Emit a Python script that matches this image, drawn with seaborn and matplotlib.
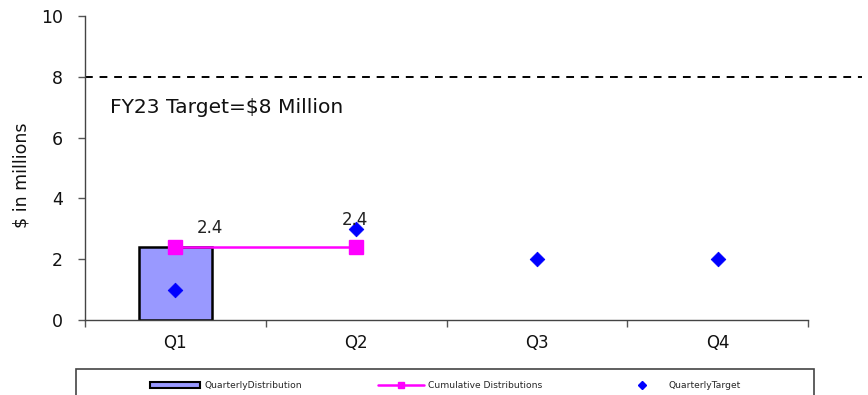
import matplotlib
matplotlib.use("Agg")
import matplotlib.pyplot as plt
import seaborn as sns
import pandas as pd
from matplotlib.patches import Patch, Rectangle
from matplotlib.lines import Line2D

quarters = ["Q1", "Q2", "Q3", "Q4"]
quarterly_distribution = [2.4, None, None, None]
cumulative_distributions = [2.4, 2.4, None, None]
quarterly_target = [1, 3, 2, 2]
fy_target = 8
yticks = [0, 2, 4, 6, 8, 10]
legend_labels = ["QuarterlyDistribution", "Cumulative Distributions", "QuarterlyTarget"]

sns.set_theme(style="white")
plt.rcParams["font.family"] = ["DejaVu Sans"]

W, H = 868, 395
fig = plt.figure(figsize=(W/100, H/100), dpi=100)
ax = fig.add_axes([85/W, 1-320/H, (808-85)/W, (320-16)/H])

df = pd.DataFrame({"q": quarters, "dist": quarterly_distribution,
                   "cum": cumulative_distributions, "tgt": quarterly_target})
pos = list(range(len(quarters)))

dbar = df.dropna(subset=["dist"])
sns.barplot(x=[pos[quarters.index(q)] for q in dbar["q"]], y=dbar["dist"].astype(float),
            native_scale=True, width=0.4, color="#9999FF", edgecolor="black",
            linewidth=1.8, saturation=1, ax=ax)

dcum = df.dropna(subset=["cum"])
xc = [pos[quarters.index(q)] for q in dcum["q"]]
ax.plot(xc, dcum["cum"].astype(float), color="#FF00FF", lw=1.8, marker="s",
        ms=10, mec="#FF00FF", mfc="#FF00FF", zorder=4)

sns.scatterplot(x=pos, y=df["tgt"], marker="D", s=55, color="#0000FF",
                edgecolor="#0000FF", ax=ax, zorder=5)

for i, (x, v) in enumerate(zip(xc, dcum["cum"])):
    dx = 0.19 if i == 0 else -0.005
    dy = 0.63 if i == 0 else 0.9
    ax.text(x + dx, float(v) + dy, f"{float(v):.1f}", ha="center", va="center",
            fontsize=12, color="#222222", zorder=6)

ax.axhline(fy_target, xmin=0, xmax=(862-85)/(808-85), color="black", lw=1.4,
           ls=(0, (4, 3.5)), clip_on=False)
ax.text(-0.36, 7.0, f"FY23 Target=${fy_target} Million", fontsize=14.6,
        ha="left", va="center", color="#111111")

ax.set_xlim(-0.5, 3.5)
ax.set_ylim(0, 10)
ax.set_yticks(yticks)
ax.set_xticks(pos)
ax.set_xticklabels(quarters)
ax.set_xticks([-0.5, 0.5, 1.5, 2.5, 3.5], minor=True)
ax.tick_params(axis="x", which="major", length=0, labelsize=12, pad=10,
               labelcolor="#111111")
ax.tick_params(axis="x", which="minor", length=5, width=1, color="#555555",
               direction="out", bottom=True)
ax.tick_params(axis="y", length=5, width=1, color="#555555", direction="out",
               left=True, labelsize=12.5, pad=11, labelcolor="#111111")
ax.set_ylabel("$ in millions", fontsize=12.5, color="#111111")
ax.yaxis.set_label_coords((30-85)/723, (320-175)/304)
ax.set_xlabel("")
for s in ["top", "right"]:
    ax.spines[s].set_visible(False)
for s in ["left", "bottom"]:
    ax.spines[s].set_color("#444444")
    ax.spines[s].set_linewidth(1)

# legend frame (extends past the bottom edge like the reference)
fig.patches.append(Rectangle((76/W, -0.05), (814-76)/W, 0.05 + 1-369/H,
                             transform=fig.transFigure, fill=False,
                             edgecolor="#444444", linewidth=1.2, clip_on=False))

handles = [
    Patch(facecolor="#9999FF", edgecolor="black", linewidth=1.5),
    Line2D([0], [0], color="#FF00FF", lw=1.8, marker="s", ms=5),
    Line2D([0], [0], color="#0000FF", lw=0, marker="D", ms=4),
]
starts = [150, 378, 620]
hlens = [5.4, 5.0, 4.8]
for h, lab, x0, hl in zip(handles, legend_labels, starts, hlens):
    fig.legend([h], [lab], loc="center left",
               bbox_to_anchor=(x0/W, 1-386/H), fontsize=6.6, frameon=False,
               handlelength=hl, handleheight=0.55, handletextpad=0.5,
               borderpad=0, borderaxespad=0)

fig.savefig("out.png", dpi=100)
